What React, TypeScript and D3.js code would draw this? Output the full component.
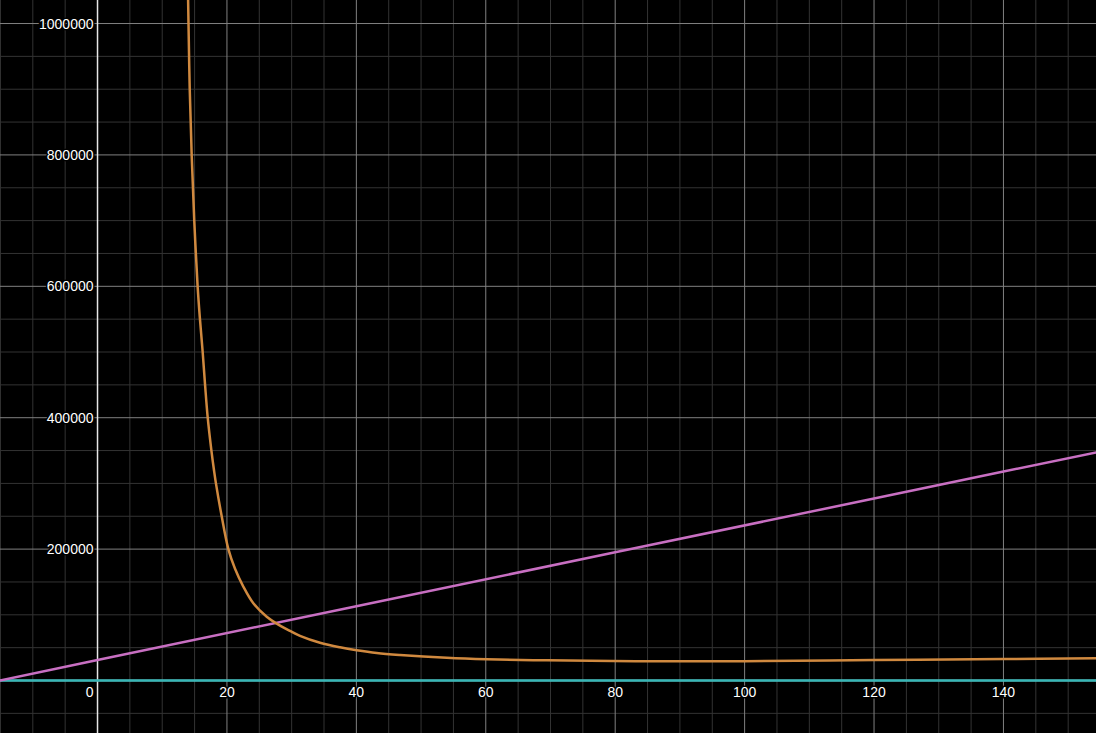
import React from 'react';
import * as d3 from 'd3';

// view window
const xView = [-15.07, 154.3];
const yView = [-79900, 1035800];

const xMajorTicks = [0, 20, 40, 60, 80, 100, 120, 140];
const yMajorTicks = [200000, 400000, 600000, 800000, 1000000];

// orange curve, points
const orangeX = [13.976, 14.0, 14.06, 14.25, 14.55, 14.95, 15.47, 15.83, 16.25, 16.62, 17.03, 17.6, 18.0, 18.3, 19.19, 20.22, 21.25, 22.53, 24.08, 26.15, 27.69, 29.75, 31.29, 34.38, 37.47, 40.06, 43.15, 46.75, 53.96, 60.14, 69.4, 79.7, 90, 100, 120, 140, 154.4];
const orangeY = [1050000, 1035800, 1000000, 900000, 800000, 700000, 600000, 550000, 500000, 450000, 400000, 350000, 320000, 300000, 250000, 200000, 170000, 143000, 117500, 97000, 86500, 75500, 68000, 57500, 50500, 46000, 41800, 38800, 34500, 32300, 30700, 29700, 29300, 29500, 31200, 32700, 33800];

// pink straight line
const pinkX = [-15.1, 0, 40, 80, 120, 140, 154.4];
const pinkY = [0, 31200, 113100, 195100, 277000, 318000, 347300];

// teal line lying on the x axis
const tealX = [-15.1, 154.4];
const tealY = [0, 0];

const W = 1096;
const H = 733;

export default function App() {
  const x = d3.scaleLinear().domain(xView).range([0, W]);
  const y = d3.scaleLinear().domain(yView).range([H, 0]);

  const minorX = d3.range(-15, 155, 5).filter(v => v % 20 !== 0);
  const minorY = d3.range(-50000, 1050001, 50000).filter(v => v % 200000 !== 0);
  const majorX = d3.range(-20, 155, 20).filter(v => v !== 0);
  const majorY = d3.range(-200000, 1050001, 200000).filter(v => v !== 0);

  const mkLine = (xs: number[], ys: number[], curve: d3.CurveFactory) =>
    d3.line<number>()
      .x(i => x(xs[i]))
      .y(i => y(ys[i]))
      .curve(curve)(d3.range(xs.length)) || '';

  const labelStyle: React.CSSProperties = {
    fontFamily: 'Arial, "Liberation Sans", sans-serif',
    fontSize: 14,
    fill: '#fff',
    stroke: '#000',
    strokeWidth: 3,
    paintOrder: 'stroke',
  };

  return (
    <svg width={W} height={H} style={{ position: 'fixed', left: 0, top: 0, background: '#000' }}>
      <rect width={W} height={H} fill="#000" />
      <defs>
        <clipPath id="plot">
          <rect width={W} height={H} />
        </clipPath>
      </defs>
      <g>
        {minorX.map(v => (
          <line key={'mx' + v} x1={x(v)} x2={x(v)} y1={0} y2={H} stroke="#333" strokeWidth={1} />
        ))}
        {minorY.map(v => (
          <line key={'my' + v} x1={0} x2={W} y1={y(v)} y2={y(v)} stroke="#333" strokeWidth={1} />
        ))}
        {majorX.map(v => (
          <line key={'Mx' + v} x1={x(v)} x2={x(v)} y1={0} y2={H} stroke="#808080" strokeWidth={1} />
        ))}
        {majorY.map(v => (
          <line key={'My' + v} x1={0} x2={W} y1={y(v)} y2={y(v)} stroke="#808080" strokeWidth={1} />
        ))}
        <line x1={x(0)} x2={x(0)} y1={0} y2={H} stroke="#e6e6e6" strokeWidth={1.5} />
        <line x1={0} x2={W} y1={y(0)} y2={y(0)} stroke="#e6e6e6" strokeWidth={1.5} />
      </g>
      <g clipPath="url(#plot)" fill="none" strokeWidth={2.5} strokeLinejoin="round">
        <path d={mkLine(tealX, tealY, d3.curveLinear)} stroke="#37b6b6" />
        <path d={mkLine(pinkX, pinkY, d3.curveLinear)} stroke="#c86fc2" />
        <path d={mkLine(orangeX, orangeY, d3.curveCatmullRom.alpha(0.5))} stroke="#d0893f" />
      </g>
      <g style={labelStyle}>
        {xMajorTicks.map(v => (
          <text
            key={'xl' + v}
            x={v === 0 ? x(0) - 4 : x(v)}
            y={y(0) + 16.5}
            textAnchor={v === 0 ? 'end' : 'middle'}
          >
            {v}
          </text>
        ))}
        {yMajorTicks.map(v => (
          <text key={'yl' + v} x={x(0) - 4} y={y(v) + 5} textAnchor="end">
            {v}
          </text>
        ))}
      </g>
    </svg>
  );
}
